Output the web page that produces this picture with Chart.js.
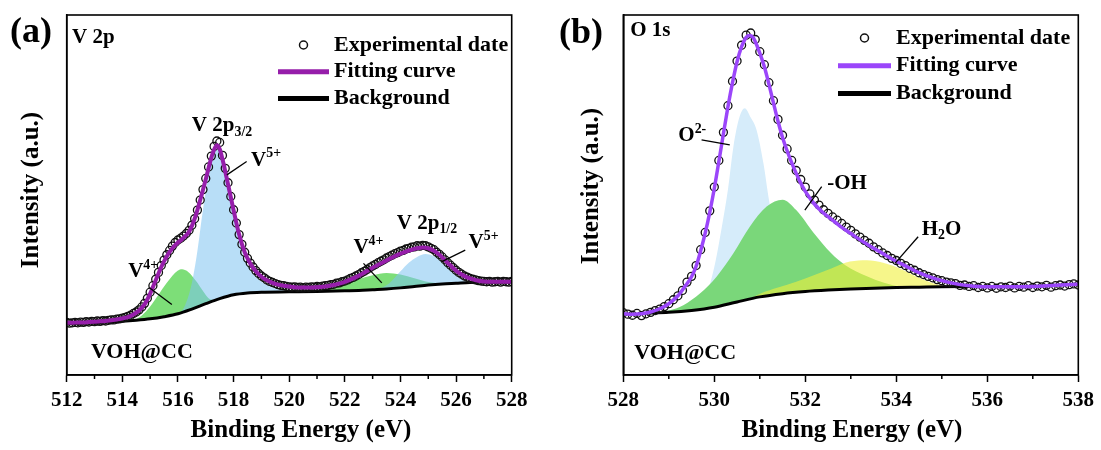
<!DOCTYPE html>
<html>
<head>
<meta charset="utf-8">
<script src="https://cdn.jsdelivr.net/npm/chart.js@4.4.1/dist/chart.umd.min.js"></script>
<style>
  html, body { margin: 0; padding: 0; background: #fff; }
  #wrap { position: relative; width: 1101px; height: 450px; }
  #wrap canvas { position: absolute; top: 0; }
</style>
</head>
<body>
<div id="wrap">
  <canvas id="v2p" width="550" height="450" style="left:0"></canvas>
  <canvas id="o1s" width="551" height="450" style="left:550px"></canvas>
</div>
<script>
// ---- (a) V 2p ----
const vExpEnergy = [
  512.0,512.1,512.2,512.3,512.4,512.5,512.6,512.7,512.8,512.9,
  513.0,513.1,513.2,513.3,513.4,513.5,513.6,513.7,513.8,513.9,
  514.0,514.1,514.2,514.3,514.4,514.5,514.6,514.7,514.8,514.9,
  515.0,515.1,515.2,515.3,515.4,515.5,515.6,515.7,515.8,515.9,
  516.0,516.1,516.2,516.3,516.4,516.5,516.6,516.7,516.8,516.9,
  517.0,517.1,517.2,517.3,517.4,517.5,517.6,517.7,517.8,517.9,
  518.0,518.1,518.2,518.3,518.4,518.5,518.6,518.7,518.8,518.9,
  519.0,519.1,519.2,519.3,519.4,519.5,519.6,519.7,519.8,519.9,
  520.0,520.1,520.2,520.3,520.4,520.5,520.6,520.7,520.8,520.9,
  521.0,521.1,521.2,521.3,521.4,521.5,521.6,521.7,521.8,521.9,
  522.0,522.1,522.2,522.3,522.4,522.5,522.6,522.7,522.8,522.9,
  523.0,523.1,523.2,523.3,523.4,523.5,523.6,523.7,523.8,523.9,
  524.0,524.1,524.2,524.3,524.4,524.5,524.6,524.7,524.8,524.9,
  525.0,525.1,525.2,525.3,525.4,525.5,525.6,525.7,525.8,525.9,
  526.0,526.1,526.2,526.3,526.4,526.5,526.6,526.7,526.8,526.9,
  527.0,527.1,527.2,527.3,527.4,527.5,527.6,527.7,527.8,527.9,
  528.0
];
const vExpCounts = [
  14.6,14.4,14.5,14.6,14.5,14.7,14.6,14.8,14.7,14.9,
  14.8,15.0,14.9,15.1,15.0,15.2,15.3,15.3,15.5,15.6,
  15.8,16.0,16.3,16.6,17.1,17.5,18.1,18.9,19.9,21.3,
  23.0,24.8,26.6,28.5,30.4,31.9,33.4,34.6,35.8,36.8,
  37.5,38.0,38.6,39.3,40.2,41.6,43.4,45.8,48.6,51.5,
  54.6,57.8,60.8,63.5,65.0,64.6,61.0,57.4,53.4,49.6,
  45.9,42.2,39.0,36.3,34.1,32.4,31.1,30.0,29.0,28.2,
  27.5,27.0,26.4,26.0,25.7,25.4,25.1,24.9,24.8,24.6,
  24.5,24.4,24.5,24.3,24.4,24.2,24.4,24.3,24.5,24.4,
  24.6,24.5,24.7,24.8,24.9,25.1,25.2,25.5,25.6,25.9,
  26.1,26.4,26.8,27.1,27.5,27.9,28.4,28.8,29.3,29.8,
  30.3,30.7,31.2,31.6,32.0,32.5,32.9,33.3,33.7,34.0,
  34.4,34.6,35.0,35.2,35.5,35.6,35.9,35.8,36.0,35.9,
  35.6,35.2,34.8,34.1,33.5,32.8,32.0,31.2,30.5,29.8,
  29.1,28.5,28.0,27.5,27.2,26.8,26.6,26.4,26.2,26.1,
  26.0,25.9,26.0,25.8,25.9,26.0,25.8,26.0,25.9,25.8,
  26.0
];
const vFitEnergy = [
  512.0,512.2,512.4,512.6,512.8,513.0,513.2,513.4,513.6,513.8,
  514.0,514.2,514.4,514.6,514.8,515.0,515.2,515.4,515.6,515.8,
  516.0,516.2,516.4,516.6,516.8,517.0,517.2,517.3,517.4,517.5,
  517.6,517.8,518.0,518.2,518.4,518.6,518.8,519.0,519.2,519.4,
  519.6,519.8,520.0,520.2,520.4,520.6,520.8,521.0,521.2,521.4,
  521.6,521.8,522.0,522.2,522.4,522.6,522.8,523.0,523.2,523.4,
  523.6,523.8,524.0,524.2,524.4,524.6,524.8,525.0,525.2,525.4,
  525.6,525.8,526.0,526.2,526.4,526.6,526.8,527.0,527.2,527.4,
  527.6,527.8,528.0
];
const vFitCounts = [
  14.5,14.5,14.6,14.6,14.7,14.8,14.9,15.0,15.2,15.4,
  15.7,16.1,16.8,17.9,19.6,22.6,26.3,30.0,33.0,35.2,
  36.8,38.1,39.8,43.4,48.6,54.4,60.4,62.6,63.8,62.8,
  60.0,53.0,45.8,39.0,34.1,31.0,28.8,27.3,26.3,25.6,
  25.1,24.8,24.6,24.4,24.3,24.3,24.3,24.4,24.5,24.7,
  25.0,25.4,25.9,26.5,27.2,28.0,28.9,29.8,30.6,31.4,
  32.2,33.0,33.7,34.3,34.8,35.2,35.4,35.2,34.5,33.4,
  31.9,30.4,29.0,27.9,27.1,26.6,26.2,26.0,25.9,25.9,
  25.9,25.9,25.9
];
const vBgEnergy = [512,512.5,513,513.5,514,514.5,515,515.5,516,516.5,517,517.5,518,518.5,519,520,521,522,522.5,523,523.5,524,524.5,525,525.5,526,526.5,527,528];
const vBgCounts = [14.4,14.4,14.5,14.7,14.9,15.2,15.6,16.2,17.0,18.3,19.8,21.2,22.3,22.8,23.0,23.1,23.2,23.4,23.5,23.7,23.9,24.2,24.6,25.0,25.3,25.5,25.7,25.8,25.9];
const v4aEnergy = [514.4,514.7,515.0,515.3,515.6,515.8,516.0,516.1,516.3,516.5,516.7,516.9,517.1,517.3,517.45];
const v4aCounts = [15.1,16.5,19.0,22.3,25.6,27.6,29.0,29.4,29.0,27.6,25.6,23.3,21.3,20.8,21.1];
const v5aEnergy = [516.0,516.2,516.4,516.55,516.7,516.9,517.1,517.3,517.45,517.6,517.8,518.0,518.2,518.4,518.6,518.8,519.1,519.5,520.0,520.3];
const v5aCounts = [17.0,18.5,22.5,27.5,34.5,46.0,55.5,61.5,62.8,59.5,52.5,44.0,37.0,32.2,29.3,27.3,25.5,24.0,23.3,23.1];
const v4bEnergy = [521.0,521.5,522.0,522.5,523.0,523.5,524.0,524.5,525.0,525.5];
const v4bCounts = [23.2,24.1,25.3,26.6,27.7,28.3,27.9,26.9,25.8,25.3];
const v5bEnergy = [523.2,523.6,524.0,524.3,524.6,524.9,525.2,525.5,525.8,526.1,526.4,526.7];
const v5bCounts = [23.8,25.5,28.8,31.2,32.8,33.6,33.0,31.5,29.2,27.0,25.9,25.7];
const vMinorTicks = [513,515,517,519,521,523,525,527];

// ---- (b) O 1s ----
const oExpEnergy = [
  528.0,528.1,528.2,528.3,528.4,528.5,528.6,528.7,528.8,528.9,
  529.0,529.1,529.2,529.3,529.4,529.5,529.6,529.7,529.8,529.9,
  530.0,530.1,530.2,530.3,530.4,530.5,530.6,530.7,530.8,530.9,
  531.0,531.1,531.2,531.3,531.4,531.5,531.6,531.7,531.8,531.9,
  532.0,532.1,532.2,532.3,532.4,532.5,532.6,532.7,532.8,532.9,
  533.0,533.1,533.2,533.3,533.4,533.5,533.6,533.7,533.8,533.9,
  534.0,534.1,534.2,534.3,534.4,534.5,534.6,534.7,534.8,534.9,
  535.0,535.1,535.2,535.3,535.4,535.5,535.6,535.7,535.8,535.9,
  536.0,536.1,536.2,536.3,536.4,536.5,536.6,536.7,536.8,536.9,
  537.0,537.1,537.2,537.3,537.4,537.5,537.6,537.7,537.8,537.9,
  538.0
];
const oExpCounts = [
  17.3,16.9,16.6,17.1,16.5,17.0,17.4,17.9,18.3,19.0,
  19.8,20.9,22.0,23.5,25.8,27.4,30.4,34.8,39.6,45.6,
  52.2,59.6,67.4,74.8,81.6,87.2,91.6,94.4,95.0,93.2,
  89.8,86.2,81.2,76.2,71.0,66.6,62.8,59.6,56.8,54.3,
  52.2,50.3,48.6,47.2,45.9,44.9,43.9,43.0,42.1,41.1,
  40.2,39.2,38.3,37.4,36.6,35.6,34.8,33.9,33.2,32.4,
  31.8,31.0,30.4,29.6,29.1,28.4,27.9,27.4,27.0,26.5,
  26.2,25.8,25.6,25.4,24.9,25.0,24.6,24.8,24.3,24.6,
  24.2,24.6,24.1,24.5,24.3,24.7,24.2,24.6,24.4,24.8,
  24.3,24.7,24.5,24.9,24.4,24.8,25.0,24.7,25.1,25.3,
  25.0
];
const oFitEnergy = [
  528.0,528.2,528.4,528.6,528.8,529.0,529.2,529.35,529.5,529.6,
  529.7,529.8,529.9,530.0,530.1,530.2,530.3,530.4,530.5,530.6,
  530.7,530.78,530.86,531.0,531.1,531.2,531.3,531.4,531.5,531.6,
  531.7,531.8,531.9,532.0,532.2,532.4,532.6,532.8,533.0,533.2,
  533.4,533.6,533.8,534.0,534.2,534.4,534.6,534.8,535.0,535.2,
  535.4,535.6,535.8,536.0,536.5,537.0,537.5,538.0
];
const oFitCounts = [
  17.0,16.9,17.0,17.5,18.4,19.8,22.0,24.5,27.3,30.2,
  34.5,39.4,45.2,51.8,59.3,67.0,74.5,81.2,87.0,91.2,
  93.8,94.3,93.6,89.4,85.6,80.8,75.6,70.5,66.0,62.3,
  59.0,56.0,53.3,51.0,47.5,45.0,43.0,41.0,39.3,37.6,
  36.0,34.5,33.0,31.6,30.3,29.0,27.9,27.0,26.2,25.6,
  25.1,24.8,24.6,24.5,24.5,24.6,24.9,25.2
];
const oBgEnergy = [528.5,529,529.5,530,530.5,531,531.5,532,532.5,533,533.5,534,534.5,535,535.7];
const oBgCounts = [17.2,17.4,17.9,18.8,20.3,21.7,22.6,23.2,23.6,23.9,24.1,24.3,24.4,24.5,24.6];
const o2Energy = [529.5,529.8,530.0,530.15,530.3,530.42,530.55,530.67,530.8,530.93,531.08,531.19,531.35,531.55,531.8,532.0];
const o2Counts = [17.9,21.5,30.0,40.0,51.5,63.4,71.5,74.1,71.5,68.0,58.8,49.5,38.0,28.0,23.5,23.2];
const ohEnergy = [528.8,529.0,529.32,529.69,530.05,530.42,530.78,531.15,531.5,531.8,532.19,532.57,532.88,533.34,533.73,534.12,534.4];
const ohCounts = [17.4,17.9,19.4,22.7,27.3,33.8,41.2,46.8,48.7,45.8,39.4,33.8,30.5,27.5,25.6,24.5,24.4];
const h2oEnergy = [530.8,531.03,531.4,531.8,532.2,532.57,532.98,533.35,533.71,534.08,534.45,534.81,535.1];
const h2oCounts = [21.2,22.7,24.3,25.9,27.8,29.6,31.5,31.9,31.2,29.6,27.3,25.5,24.6];
const oMinorTicks = [529,531,533,535,537];

const SERIF = '"Liberation Serif", "Times New Roman", serif';

function pairs(xs, ys) {
  return xs.map((x, i) => ({ x: x, y: ys[i] }));
}

function drawRich(ctx, x, y, parts, size) {
  let cx = x;
  parts.forEach(([text, kind]) => {
    const s = kind ? size * 0.66 : size;
    ctx.font = `bold ${s}px ${SERIF}`;
    let dy = 0;
    if (kind === 'sup') dy = -size * 0.3;
    if (kind === 'sub') dy = size * 0.3;
    ctx.fillText(text, cx, y + dy);
    cx += ctx.measureText(text).width;
  });
}

// frame, minor ticks, labels, leaders and the legend
function makeDecor(cfg) {
  return {
    id: 'decor',
    afterDraw(chart) {
      const { ctx, chartArea: a } = chart;
      const xs = chart.scales.x, ys = chart.scales.y;
      ctx.save();
      ctx.strokeStyle = '#000';
      ctx.lineWidth = 1.5;
      cfg.minor.forEach(v => {
        const px = xs.getPixelForValue(v);
        ctx.beginPath(); ctx.moveTo(px, a.bottom); ctx.lineTo(px, a.bottom + 4); ctx.stroke();
      });
      ctx.lineWidth = 1.6;
      ctx.strokeRect(a.left, a.top, a.right - a.left, a.bottom - a.top);

      ctx.lineWidth = 1.3;
      cfg.leaders.forEach(l => {
        ctx.beginPath();
        ctx.moveTo(xs.getPixelForValue(l[0]), ys.getPixelForValue(l[1]));
        ctx.lineTo(xs.getPixelForValue(l[2]), ys.getPixelForValue(l[3]));
        ctx.stroke();
      });

      ctx.fillStyle = '#000';
      ctx.textBaseline = 'middle';
      ctx.textAlign = 'left';
      cfg.labels.forEach(t => {
        drawRich(ctx, xs.getPixelForValue(t.at[0]), ys.getPixelForValue(t.at[1]), t.parts, t.size || 21);
      });

      ctx.font = `bold 36px ${SERIF}`;
      ctx.fillText(cfg.tag.text, cfg.tag.x, cfg.tag.y);

      ctx.font = `bold 25px ${SERIF}`;
      ctx.textAlign = 'center';
      ctx.fillText('Binding Energy (eV)', cfg.xTitle[0], cfg.xTitle[1]);
      ctx.save();
      ctx.translate(cfg.yTitle[0], cfg.yTitle[1]);
      ctx.rotate(-Math.PI / 2);
      ctx.fillText('Intensity (a.u.)', 0, 0);
      ctx.restore();

      // legend
      const lg = cfg.legend;
      ctx.textAlign = 'left';
      chart.data.datasets.filter(d => d.inLegend).forEach((d, i) => {
        const ry = lg.y + i * lg.gap;
        if (d.showLine === false) {
          ctx.beginPath();
          ctx.arc((lg.sym0 + lg.sym1) / 2, ry, 4, 0, Math.PI * 2);
          ctx.lineWidth = 1.5;
          ctx.strokeStyle = '#111';
          ctx.stroke();
        } else {
          ctx.beginPath();
          ctx.moveTo(lg.sym0, ry); ctx.lineTo(lg.sym1, ry);
          ctx.lineWidth = 5;
          ctx.strokeStyle = d.borderColor;
          ctx.stroke();
        }
        ctx.font = `bold 22px ${SERIF}`;
        ctx.fillText(d.label, lg.textX, ry);
      });
      ctx.restore();
    }
  };
}

function component(label, xs, ys, color, order) {
  return {
    label: label,
    data: pairs(xs, ys),
    borderColor: 'transparent',
    borderWidth: 0,
    backgroundColor: color,
    pointRadius: 0,
    fill: { target: 2 },
    cubicInterpolationMode: 'monotone',
    order: order
  };
}

function baseDatasets(expX, expY, fitX, fitY, bgX, bgY, fitColor, fitWidth) {
  return [
    {
      label: 'Experimental date',
      data: pairs(expX, expY),
      showLine: false,
      pointRadius: 4,
      pointBorderWidth: 1.3,
      pointBorderColor: '#111',
      pointBackgroundColor: 'rgba(255,255,255,0)',
      order: 2,
      inLegend: true
    },
    {
      label: 'Fitting curve',
      data: pairs(fitX, fitY),
      borderColor: fitColor,
      borderWidth: fitWidth,
      pointRadius: 0,
      cubicInterpolationMode: 'monotone',
      order: 1,
      inLegend: true
    },
    {
      label: 'Background',
      data: pairs(bgX, bgY),
      borderColor: '#000',
      borderWidth: 3,
      pointRadius: 0,
      cubicInterpolationMode: 'monotone',
      order: 3,
      inLegend: true
    }
  ];
}

function makeOptions(xmin, xmax, leftW, rightPad) {
  return {
    responsive: false,
    animation: false,
    events: [],
    layout: { padding: { top: 15, right: rightPad, left: 0, bottom: 0 } },
    plugins: { legend: { display: false }, tooltip: { enabled: false } },
    scales: {
      x: {
        type: 'linear',
        min: xmin,
        max: xmax,
        ticks: {
          stepSize: 2,
          color: '#000',
          padding: 6,
          maxRotation: 0,
          autoSkip: false,
          font: { family: SERIF, size: 21, weight: 'bold' }
        },
        grid: { drawOnChartArea: false, tickLength: 7, tickColor: '#000', tickWidth: 1.5 },
        border: { color: '#000', width: 1.6 },
        afterFit: s => { s.height = 75; }
      },
      y: {
        min: 0,
        max: 100,
        ticks: { display: false },
        grid: { display: false },
        border: { color: '#000', width: 1.6 },
        afterFit: s => { s.width = leftW; }
      }
    }
  };
}

const chartA = new Chart(document.getElementById('v2p'), {
  type: 'line',
  data: {
    datasets: baseDatasets(vExpEnergy, vExpCounts, vFitEnergy, vFitCounts, vBgEnergy, vBgCounts, '#961eaa', 4).concat([
      component('V4+ 2p3/2', v4aEnergy, v4aCounts, 'rgb(125,222,120)', 11),
      component('V5+ 2p3/2', v5aEnergy, v5aCounts, 'rgba(125,195,240,0.55)', 10),
      component('V4+ 2p1/2', v4bEnergy, v4bCounts, 'rgb(125,222,120)', 11),
      component('V5+ 2p1/2', v5bEnergy, v5bCounts, 'rgba(125,195,240,0.55)', 10)
    ])
  },
  options: makeOptions(512, 528, 66.7, 38.3),
  plugins: [makeDecor({
    minor: vMinorTicks,
    tag: { text: '(a)', x: 10, y: 33 },
    xTitle: [301, 431],
    yTitle: [32, 190],
    labels: [
      { at: [512.19, 93.7], parts: [['V 2p']] },
      { at: [516.5, 69.2], parts: [['V 2p'], ['3/2', 'sub']] },
      { at: [518.63, 59.7], parts: [['V'], ['5+', 'sup']] },
      { at: [514.21, 28.6], parts: [['V'], ['4+', 'sup']] },
      { at: [523.87, 42.2], parts: [['V 2p'], ['1/2', 'sub']] },
      { at: [522.31, 35.3], parts: [['V'], ['4+', 'sup']] },
      { at: [526.45, 36.7], parts: [['V'], ['5+', 'sup']] },
      { at: [512.87, 6.4], parts: [['VOH@CC']], size: 22 }
    ],
    leaders: [
      [517.76, 55.6, 518.47, 59.3],
      [515.0, 24.1, 515.78, 19.6],
      [522.67, 31.0, 523.33, 25.6],
      [526.33, 34.7, 525.49, 31.5]
    ],
    legend: { y: 45, gap: 26.8, sym0: 278, sym1: 329, textX: 334 }
  })]
});

const chartB = new Chart(document.getElementById('o1s'), {
  type: 'line',
  data: {
    datasets: baseDatasets(oExpEnergy, oExpCounts, oFitEnergy, oFitCounts, oBgEnergy, oBgCounts, '#9b46fa', 3.5).concat([
      component('O2-', o2Energy, o2Counts, 'rgb(214,236,250)', 12),
      component('-OH', ohEnergy, ohCounts, 'rgb(122,215,122)', 11),
      component('H2O', h2oEnergy, h2oCounts, 'rgba(240,240,60,0.6)', 10)
    ])
  },
  options: makeOptions(528, 538, 73.3, 22.7),
  plugins: [makeDecor({
    minor: oMinorTicks,
    tag: { text: '(b)', x: 9, y: 33.5 },
    xTitle: [302, 431],
    yTitle: [41.5, 186],
    labels: [
      { at: [528.15, 95.6], parts: [['O 1s']] },
      { at: [529.21, 66.4], parts: [['O'], ['2-', 'sup']] },
      { at: [532.48, 53.3], parts: [['-OH']] },
      { at: [534.56, 40.5], parts: [['H'], ['2', 'sub'], ['O']] },
      { at: [528.24, 6.1], parts: [['VOH@CC']], size: 22 }
    ],
    leaders: [
      [529.72, 65.3, 530.34, 63.9],
      [532.36, 52.3, 531.99, 45.8],
      [534.48, 38.4, 533.97, 31.0]
    ],
    legend: { y: 38, gap: 27.8, sym0: 288, sym1: 341, textX: 346 }
  })]
});
</script>
</body>
</html>
